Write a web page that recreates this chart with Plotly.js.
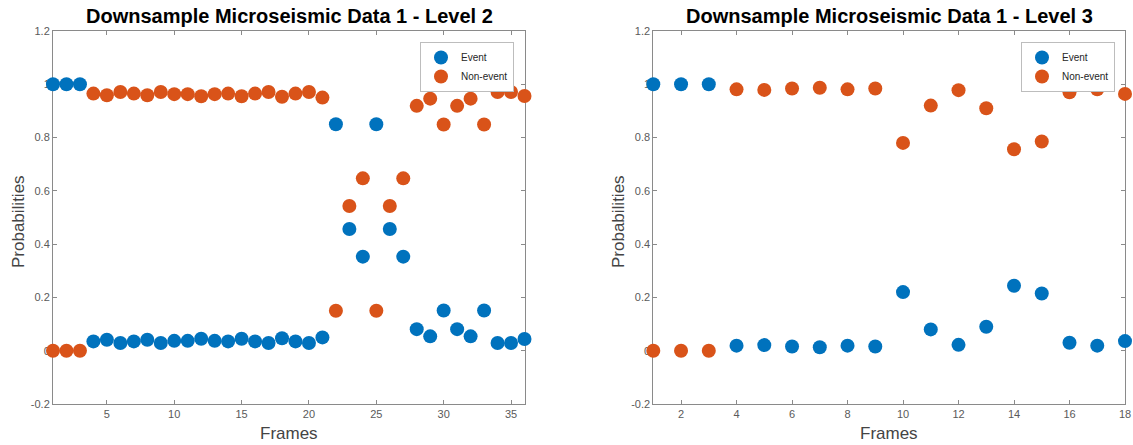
<!DOCTYPE html>
<html>
<head>
<meta charset="utf-8">
<script src="https://cdn.plot.ly/plotly-3.0.1.min.js"></script>
<style>html,body{margin:0;padding:0;background:#fff;}#chart{width:1133px;height:445px;}</style>
</head>
<body>
<div id="chart"></div>
<script>
// Level 2 data (36 frames)
const framesL2 = [1,2,3,4,5,6,7,8,9,10,11,12,13,14,15,16,17,18,19,20,21,22,23,24,25,26,27,28,29,30,31,32,33,34,35,36];
const eventL2 = [1.0,1.0,1.0,0.035,0.041,0.029,0.035,0.041,0.029,0.037,0.037,0.045,0.037,0.035,0.045,0.035,0.029,0.047,0.035,0.029,0.05,
                 0.85,0.457,0.353,0.85,0.457,0.353,0.081,0.054,0.151,0.081,0.054,0.151,0.029,0.029,0.044];
const nonEventL2 = [0.0,0.0,0.0,0.965,0.959,0.971,0.965,0.959,0.971,0.963,0.963,0.955,0.963,0.965,0.955,0.965,0.971,0.953,0.965,0.971,0.95,
                    0.15,0.543,0.647,0.15,0.543,0.647,0.919,0.946,0.849,0.919,0.946,0.849,0.971,0.971,0.956];
// Level 3 data (18 frames)
const framesL3 = [1,2,3,4,5,6,7,8,9,10,11,12,13,14,15,16,17,18];
const eventL3 = [1.0,1.0,1.0,0.019,0.021,0.016,0.013,0.019,0.016,0.22,0.08,0.022,0.09,0.244,0.215,0.03,0.019,0.036];
const nonEventL3 = [0.0,0.0,0.0,0.981,0.979,0.984,0.987,0.981,0.984,0.78,0.92,0.978,0.91,0.756,0.785,0.97,0.981,0.964];

const titles = ['Downsample Microseismic Data 1 - Level 2','Downsample Microseismic Data 1 - Level 3'];
const yTickVals = [-0.2,0,0.2,0.4,0.6,0.8,1,1.2];
const yTickText = ['-0.2','0','0.2','0.4','0.6','0.8','1','1.2'];
const xTicksL2 = [5,10,15,20,25,30,35];
const xTicksL3 = [2,4,6,8,10,12,14,16,18];

const BLUE = '#0072BD', ORANGE = '#D95319';
const mk = (c) => ({color: c, size: 14, line: {width: 0}});

const traces = [
  {x: framesL2, y: eventL2, name: 'Event', type: 'scatter', mode: 'markers', marker: mk(BLUE), xaxis: 'x', yaxis: 'y', legend: 'legend', cliponaxis: false},
  {x: framesL2, y: nonEventL2, name: 'Non-event', type: 'scatter', mode: 'markers', marker: mk(ORANGE), xaxis: 'x', yaxis: 'y', legend: 'legend', cliponaxis: false},
  {x: framesL3, y: eventL3, name: 'Event', type: 'scatter', mode: 'markers', marker: mk(BLUE), xaxis: 'x2', yaxis: 'y2', legend: 'legend2', cliponaxis: false},
  {x: framesL3, y: nonEventL3, name: 'Non-event', type: 'scatter', mode: 'markers', marker: mk(ORANGE), xaxis: 'x2', yaxis: 'y2', legend: 'legend2', cliponaxis: false}
];

const W = 1133, H = 445;
const px = (v) => v / W, py = (v) => 1 - v / H;
const axisCommon = {
  showgrid: false, zeroline: false, showline: true, linecolor: '#8a8a8a', linewidth: 1,
  mirror: 'ticks', ticks: 'inside', ticklen: 4, tickcolor: '#8a8a8a', tickwidth: 1,
  tickfont: {family: 'Liberation Sans, Arial, sans-serif', size: 11, color: '#5a5a5a'},
  layer: 'below traces', fixedrange: true
};
const yCommon = Object.assign({}, axisCommon, {range: [-0.2, 1.2], tickvals: yTickVals, ticktext: yTickText, domain: [py(404), py(31)]});

const legendCommon = {
  bgcolor: '#ffffff', bordercolor: '#bdbdbd', borderwidth: 1,
  font: {family: 'Liberation Sans, Arial, sans-serif', size: 10, color: '#262626'},
  xanchor: 'right', yanchor: 'top', tracegroupgap: 0, itemwidth: 30
};

const lblFont = {family: 'Liberation Sans, Arial, sans-serif', size: 17, color: '#444444'};
const titleFont = {family: 'Liberation Sans, Arial, sans-serif', size: 20, color: '#000000', weight: 'bold'};

const layout = {
  width: W, height: H,
  margin: {l: 0, r: 0, t: 0, b: 0},
  paper_bgcolor: '#ffffff', plot_bgcolor: '#ffffff',
  showlegend: true,
  xaxis: Object.assign({}, axisCommon, {domain: [px(53), px(524.5)], range: [1, 36], tickvals: xTicksL2, anchor: 'y'}),
  yaxis: Object.assign({}, yCommon, {anchor: 'x'}),
  xaxis2: Object.assign({}, axisCommon, {domain: [px(653.3), px(1125)], range: [1, 18], tickvals: xTicksL3, anchor: 'y2'}),
  yaxis2: Object.assign({}, yCommon, {anchor: 'x2'}),
  legend: Object.assign({}, legendCommon, {x: px(514), y: py(42)}),
  legend2: Object.assign({}, legendCommon, {x: px(1115), y: py(42)}),
  annotations: [
    {text: '<b>' + titles[0] + '</b>', x: px(289), y: py(16), xref: 'paper', yref: 'paper', showarrow: false, font: titleFont, xanchor: 'center', yanchor: 'middle'},
    {text: '<b>' + titles[1] + '</b>', x: px(889), y: py(16), xref: 'paper', yref: 'paper', showarrow: false, font: titleFont, xanchor: 'center', yanchor: 'middle'},
    {text: 'Frames', x: px(289), y: py(433), xref: 'paper', yref: 'paper', showarrow: false, font: lblFont, xanchor: 'center', yanchor: 'middle'},
    {text: 'Frames', x: px(889), y: py(433), xref: 'paper', yref: 'paper', showarrow: false, font: lblFont, xanchor: 'center', yanchor: 'middle'},
    {text: 'Probabilities', x: px(18), y: py(222), xref: 'paper', yref: 'paper', showarrow: false, font: lblFont, textangle: -90, xanchor: 'center', yanchor: 'middle'},
    {text: 'Probabilities', x: px(618), y: py(222), xref: 'paper', yref: 'paper', showarrow: false, font: lblFont, textangle: -90, xanchor: 'center', yanchor: 'middle'}
  ]
};

Plotly.newPlot('chart', traces, layout, {displayModeBar: false, staticPlot: true});
</script>
</body>
</html>
